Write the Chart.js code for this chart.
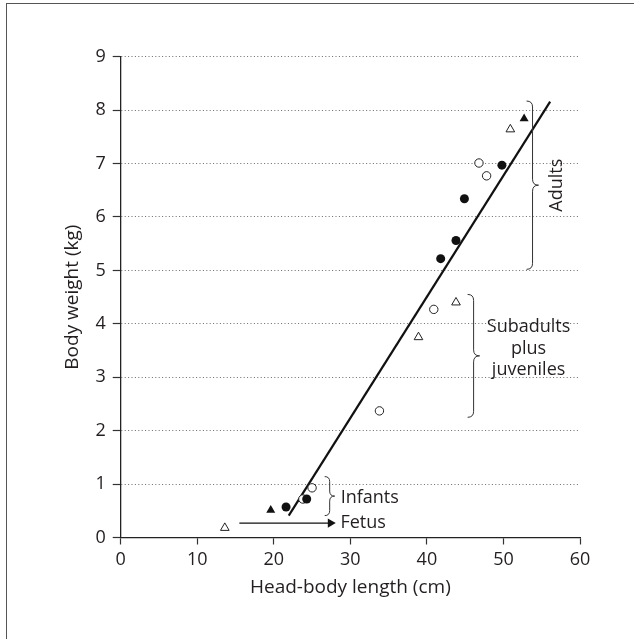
<!DOCTYPE html>
<html>
<head>
<meta charset="utf-8">
<script src="https://cdn.jsdelivr.net/npm/chart.js@4.4.1/dist/chart.umd.min.js"></script>
<style>
  html, body { margin: 0; padding: 0; background: #fff; }
  #wrap { position: relative; width: 634px; height: 639px; overflow: hidden; }
  #frame { position: absolute; left: 6px; top: 3px; width: 700px; height: 700px;
           border-left: 1.5px solid #555; border-top: 1.5px solid #555; }
  canvas { position: absolute; left: 0; top: 0; }
</style>
</head>
<body>
<div id="wrap">
  <div id="frame"></div>
  <canvas id="chart" width="634" height="639"></canvas>
</div>
<script>
// ---- data ----
const filledCircles = [
  { x: 21.6, y: 0.57 }, { x: 24.3, y: 0.72 }, { x: 41.8, y: 5.22 },
  { x: 43.8, y: 5.56 }, { x: 44.9, y: 6.34 }, { x: 49.8, y: 6.97 }
];
const openCircles = [
  { x: 23.8, y: 0.72 }, { x: 25.0, y: 0.93 }, { x: 33.8, y: 2.37 },
  { x: 40.9, y: 4.27 }, { x: 46.8, y: 7.01 }, { x: 47.8, y: 6.77 }
];
const filledTriangles = [ { x: 19.6, y: 0.51 }, { x: 52.7, y: 7.84 } ];
const openTriangles = [
  { x: 13.6, y: 0.18 }, { x: 38.9, y: 3.75 }, { x: 43.8, y: 4.40 }, { x: 50.9, y: 7.64 }
];
const fitLine = [ { x: 21.95, y: 0.41 }, { x: 56.1, y: 8.16 } ];
const fetusArrow = [ { x: 15.5, y: 0.27 }, { x: 27.4, y: 0.27 } ];

// group braces: x position, top and bottom of range (data units)
const groupNames = ["Adults", "Subadults\nplus\njuveniles", "Infants", "Fetus"];
const braceX = [53.8, 46.1, 27.3];
const braceTop = [8.17, 4.55, 1.14];
const braceBottom = [5.02, 2.25, 0.41];

const xTicks = [0, 10, 20, 30, 40, 50, 60];
const yTicks = [0, 1, 2, 3, 4, 5, 6, 7, 8, 9];

const FONT = "'Open Sans', 'Noto Sans', sans-serif";
const INK = '#231f20';

Chart.defaults.font.family = FONT;
Chart.defaults.font.size = 18;
Chart.defaults.color = INK;

// ---- braces and group labels ----
function drawBrace(ctx, x, top, bot, w) {
  const mid = (top + bot) / 2;
  ctx.beginPath();
  ctx.moveTo(x - w, top);
  ctx.quadraticCurveTo(x, top, x, top + w);
  ctx.lineTo(x, mid - w);
  ctx.quadraticCurveTo(x, mid, x + w, mid);
  ctx.quadraticCurveTo(x, mid, x, mid + w);
  ctx.lineTo(x, bot - w);
  ctx.quadraticCurveTo(x, bot, x - w, bot);
  ctx.stroke();
}

const groupsPlugin = {
  id: 'groups',
  afterDatasetsDraw(chart) {
    const { ctx, scales: { x, y } } = chart;
    ctx.save();
    ctx.strokeStyle = '#333';
    ctx.lineWidth = 1;
    ctx.fillStyle = INK;
    ctx.font = '18px ' + FONT;
    ctx.textBaseline = 'middle';

    const px = braceX.map(v => x.getPixelForValue(v));
    const pt = braceTop.map(v => y.getPixelForValue(v));
    const pb = braceBottom.map(v => y.getPixelForValue(v));
    const hooks = [6, 6, 5];
    px.forEach((bx, i) => drawBrace(ctx, bx, pt[i], pb[i], hooks[i]));

    // Adults, rotated
    ctx.save();
    ctx.translate(px[0] + 24, (pt[0] + pb[0]) / 2);
    ctx.rotate(-Math.PI / 2);
    ctx.textAlign = 'center';
    ctx.fillText(groupNames[0], 0, 0);
    ctx.restore();

    // Subadults plus juveniles
    ctx.textAlign = 'center';
    const lines = groupNames[1].split('\n');
    const midS = (pt[1] + pb[1]) / 2 - 7;
    lines.forEach((t, i) => ctx.fillText(t, px[1] + 55, midS + (i - 1) * 21.5));

    // Infants, Fetus
    ctx.textAlign = 'left';
    ctx.fillText(groupNames[2], px[2] + 11, (pt[2] + pb[2]) / 2 + 2);
    const ay = y.getPixelForValue(fetusArrow[1].y);
    ctx.fillText(groupNames[3], x.getPixelForValue(fetusArrow[1].x) + 10, ay);
    ctx.restore();
  }
};

new Chart(document.getElementById('chart'), {
  type: 'scatter',
  data: {
    datasets: [
      {
        type: 'line', data: fitLine, borderColor: '#111', borderWidth: 2.2,
        pointRadius: 0, fill: false, order: 5
      },
      {
        type: 'line', data: fetusArrow, borderColor: '#111', borderWidth: 1.3,
        pointRadius: [0, 5.3], pointStyle: 'triangle', rotation: 90,
        pointBackgroundColor: '#111', pointBorderWidth: 0, fill: false, order: 5
      },
      {
        data: filledCircles, pointStyle: 'circle', pointRadius: 4.5,
        backgroundColor: '#111', borderColor: '#111', borderWidth: 0, order: 1
      },
      {
        data: openCircles, pointStyle: 'circle', pointRadius: 4.2,
        backgroundColor: '#fff', borderColor: '#222', borderWidth: 1, order: 1
      },
      {
        data: filledTriangles, pointStyle: 'triangle', pointRadius: 5.2,
        backgroundColor: '#111', borderColor: '#111', borderWidth: 0, order: 1
      },
      {
        data: openTriangles, pointStyle: 'triangle', pointRadius: 5,
        backgroundColor: '#fff', borderColor: '#222', borderWidth: 1, order: 1
      }
    ]
  },
  options: {
    responsive: false,
    animation: false,
    layout: { padding: { top: 56.7, right: 54, bottom: 0, left: 0 } },
    plugins: { legend: { display: false }, tooltip: { enabled: false } },
    scales: {
      x: {
        type: 'linear', min: 0, max: 60,
        afterFit(s) { s.height = 101.5; },
        afterBuildTicks(s) { s.ticks = xTicks.map(v => ({ value: v })); },
        ticks: { padding: 5, color: INK, font: { size: 18 } },
        grid: {
          drawOnChartArea: false, drawTicks: true, tickLength: 7,
          tickColor: '#333', tickWidth: 1.2
        },
        border: { display: true, color: '#222', width: 1.3 },
        title: {
          display: true, text: 'Head-body length (cm)', color: INK,
          font: { size: 19 }, padding: { top: 0, bottom: 39.6 }
        }
      },
      y: {
        type: 'linear', min: 0, max: 9,
        afterFit(s) { s.width = 120.7; },
        afterBuildTicks(s) { s.ticks = yTicks.map(v => ({ value: v })); },
        ticks: { padding: 7, color: INK, font: { size: 18 } },
        grid: {
          color: c => (c.tick && c.tick.value === 0 ? 'rgba(0,0,0,0)' : '#6a6a6a'),
          lineWidth: 1, drawTicks: true, tickLength: 8,
          tickColor: '#333', tickWidth: 1.2, tickBorderDash: [],
          borderDash: [1, 2.4]
        },
        border: { display: true, color: '#222', width: 1.3, dash: [1, 2.4] },
        title: {
          display: true, text: 'Body weight (kg)', color: INK,
          font: { size: 19 }, padding: { top: 61.6, bottom: 0 }
        }
      }
    }
  },
  plugins: [groupsPlugin]
});
</script>
</body>
</html>
